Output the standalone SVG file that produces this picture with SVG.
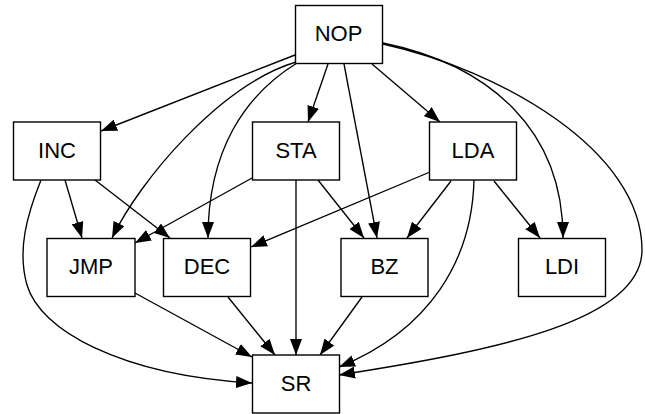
<svg xmlns="http://www.w3.org/2000/svg" width="645" height="414" viewBox="0 0 645 414">
<style>
.n rect{fill:#fff;stroke:#000;stroke-width:1.4}
.n text{font-family:"Liberation Sans",Arial,sans-serif;font-size:22px;text-anchor:middle;fill:#000}
#edges path{fill:none;stroke:#000;stroke-width:1.35;marker-end:url(#ah)}
</style>
<defs>
<marker id="ah" viewBox="0 0 16 12" refX="16" refY="6" markerWidth="16" markerHeight="12" markerUnits="userSpaceOnUse" orient="auto">
<path d="M0,0 L16,6 L0,12 z" fill="#000"/>
</marker>
</defs>
<rect width="645" height="414" fill="#fff"/>
<g id="edges">
<path d="M295,55 L101,131"/>
<path d="M296,62 C220,85 140,180 112,238"/>
<path d="M297,63 C245,95 208,150 208,238"/>
<path d="M328,64 L308,122"/>
<path d="M344,64 L377,238"/>
<path d="M372,64 L440,122"/>
<path d="M383,43 C490,65 563,130 563,238"/>
<path d="M383,44 C500,70 642,150 642,250 C642,320 500,350 339,375"/>
<path d="M65,180 L82,238"/>
<path d="M95,180 L170,238"/>
<path d="M41,180 C27,215 17,250 27,285 C40,330 120,375 252,383"/>
<path d="M252,178 L135,243"/>
<path d="M296,180 L296,355"/>
<path d="M318,180 L364,238"/>
<path d="M430,172 L251,247"/>
<path d="M451,181 L407,238"/>
<path d="M474,180 C472,260 430,330 339,367"/>
<path d="M494,181 L540,238"/>
<path d="M135,293 L252,357"/>
<path d="M228,297 L275,355"/>
<path d="M362,297 L320,355"/>
</g>
<g id="NOP" class="n"><rect x="295.5" y="5.5" width="87" height="58"/><text x="338.5" y="40.5">NOP</text></g>
<g id="INC" class="n"><rect x="13.5" y="122" width="87" height="58"/><text x="57" y="157.5">INC</text></g>
<g id="STA" class="n"><rect x="252.5" y="122" width="87" height="58"/><text x="296" y="157.5">STA</text></g>
<g id="LDA" class="n"><rect x="429.5" y="122" width="87" height="58"/><text x="473" y="157.5">LDA</text></g>
<g id="JMP" class="n"><rect x="47" y="238.5" width="88" height="58"/><text x="91" y="274">JMP</text></g>
<g id="DEC" class="n"><rect x="163.5" y="238.5" width="87" height="58"/><text x="207" y="274">DEC</text></g>
<g id="BZ" class="n"><rect x="341" y="238.5" width="87" height="58"/><text x="384.5" y="274">BZ</text></g>
<g id="LDI" class="n"><rect x="518.5" y="238.5" width="87" height="58"/><text x="562" y="274">LDI</text></g>
<g id="SR" class="n"><rect x="252.5" y="355" width="87" height="58"/><text x="296" y="390.5">SR</text></g>
</svg>
